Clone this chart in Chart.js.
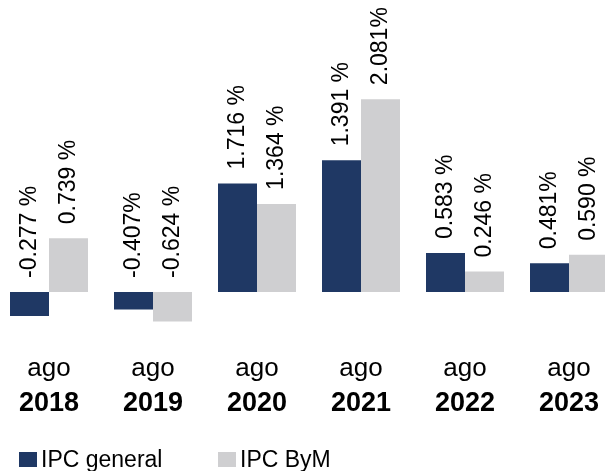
<!DOCTYPE html>
<html>
<head>
<meta charset="utf-8">
<script src="https://cdn.jsdelivr.net/npm/chart.js@4.4.0/dist/chart.umd.min.js"></script>
<style>
  html, body { margin: 0; padding: 0; background: #fff; overflow: hidden; }
  /* the plot runs a little past both edges of the window, as in the picture */
  #wrap { position: relative; left: -3px; width: 624px; height: 471px; }
</style>
</head>
<body>
<div id="wrap"><canvas id="ipcChart"></canvas></div>
<script>
const years = ['2018', '2019', '2020', '2021', '2022', '2023'];
const month = 'ago';

// bar heights as drawn in the picture (%)
const ipcGeneral = [-0.26, -0.19, 1.17, 1.42, 0.42, 0.31];
const ipcByM = [0.58, -0.32, 0.95, 2.08, 0.22, 0.40];

// printed value labels
const ipcGeneralText = ['-0.277 %', '-0.407%', '1.716 %', '1.391 %', '0.583 %', '0.481%'];
const ipcByMText = ['0.739 %', '-0.624 %', '1.364 %', '2.081%', '0.246 %', '0.590 %'];

const FONT = 'Arial, "Liberation Sans", sans-serif';

// etiquetas giradas, eje x de dos lineas y leyenda
const ipcLabels = {
    id: 'ipcLabels',
    afterDatasetsDraw(chart) {
        const ctx = chart.ctx;
        const zero = chart.scales.y.getPixelForValue(0);
        const texts = [ipcGeneralText, ipcByMText];
        ctx.save();
        ctx.fillStyle = '#000';

        ctx.font = '23px ' + FONT;
        ctx.textAlign = 'left';
        ctx.textBaseline = 'middle';
        chart.data.datasets.forEach((ds, d) => {
            chart.getDatasetMeta(d).data.forEach((bar, i) => {
                ctx.save();
                ctx.translate(bar.x, Math.min(bar.y, zero) - 14);
                ctx.rotate(-Math.PI / 2);
                ctx.fillText(texts[d][i], 0, 0);
                ctx.restore();
            });
        });

        const xScale = chart.scales.x;
        const bottom = chart.chartArea.bottom;
        ctx.textAlign = 'center';
        ctx.textBaseline = 'alphabetic';
        years.forEach((yr, i) => {
            const x = xScale.getPixelForValue(i);
            ctx.font = '26px ' + FONT;
            ctx.fillText(month, x, bottom + 47);
            ctx.font = 'bold 27px ' + FONT;
            ctx.fillText(yr, x, bottom + 82);
        });

        let lx = 22;
        ctx.textAlign = 'left';
        ctx.font = '23px ' + FONT;
        chart.data.datasets.forEach(ds => {
            ctx.fillStyle = ds.backgroundColor;
            ctx.fillRect(lx, 452, 18, 15);
            ctx.fillStyle = '#000';
            ctx.fillText(ds.label, lx + 22, 467);
            lx += 199;
        });
        ctx.restore();
    }
};

const ctx = document.getElementById('ipcChart').getContext('2d');
const ipcChart = new Chart(ctx, {
    type: 'bar',
    data: {
        labels: years,
        datasets: [{
            label: 'IPC general',
            data: ipcGeneral,
            backgroundColor: '#1F3864',
            categoryPercentage: 0.75,
            barPercentage: 1
        }, {
            label: 'IPC ByM',
            data: ipcByM,
            backgroundColor: '#CFCFD1',
            categoryPercentage: 0.75,
            barPercentage: 1
        }]
    },
    options: {
        responsive: true,
        maintainAspectRatio: false,
        animation: false,
        layout: { padding: { bottom: 142 } },
        scales: {
            x: { display: false },
            y: { display: false, min: -0.4, max: 3.15 }
        },
        plugins: {
            legend: { display: false },
            tooltip: { enabled: false }
        }
    },
    plugins: [ipcLabels]
});
</script>
</body>
</html>
